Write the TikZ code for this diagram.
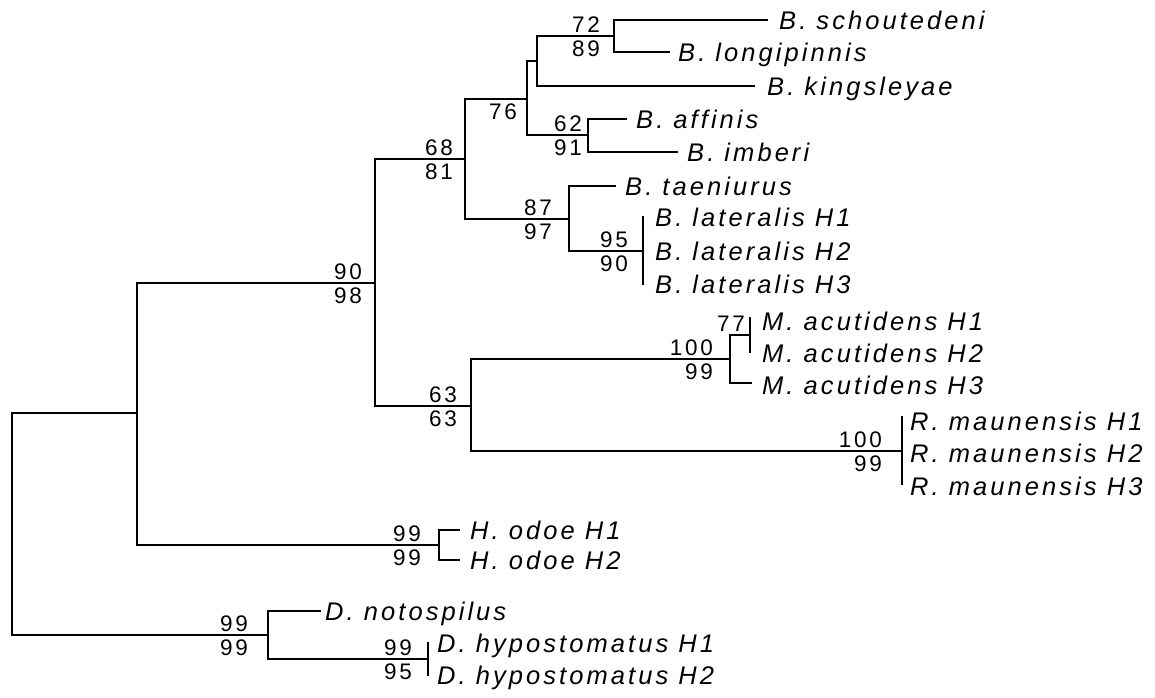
\documentclass[tikz,border=0pt]{standalone}
\usepackage{fontspec}
\newfontfamily\treefont[LetterSpace=12]{Liberation Sans}

\begin{document}
\begin{tikzpicture}[x=1pt,y=-1pt,
    branch/.style={line width=1.8pt,line cap=rect},
    taxon/.style={anchor=base west,inner sep=0pt,yshift=-9pt,
      font=\treefont\itshape\fontsize{25.5}{29}\selectfont},
    boottop/.style={anchor=base east,inner sep=0pt,yshift=4pt,
      font=\treefont\fontsize{22.5}{26}\selectfont},
    bootbot/.style={anchor=base east,inner sep=0pt,yshift=-20pt,
      font=\treefont\fontsize{22.5}{26}\selectfont}]
    \useasboundingbox[fill=white] (0,0) rectangle (1155,697);

    %% Internal nodes
    \coordinate (root) at (12,524);
    \coordinate (nA)   at (137,413);
    \coordinate (nB)   at (375,283);
    \coordinate (nC)   at (465,159);
    \coordinate (nDd)  at (527,99);
    \coordinate (nE)   at (537,61);
    \coordinate (nF)   at (614,36);
    \coordinate (nG)   at (588,135);
    \coordinate (nH)   at (569,219);
    \coordinate (nI)   at (643,251);
    \coordinate (nJ)   at (471,406);
    \coordinate (nK)   at (730,359);
    \coordinate (nL)   at (750,335);
    \coordinate (nR)   at (902,451);
    \coordinate (nO)   at (439,545);
    \coordinate (nD)   at (268,635);
    \coordinate (nHy)  at (428,659);

    %% Branch tips
    \coordinate (tSch) at (767,20);
    \coordinate (tLon) at (669,52);
    \coordinate (tKin) at (754,86);
    \coordinate (tAff) at (626,119);
    \coordinate (tImb) at (677,152);
    \coordinate (tTae) at (615,186);
    \coordinate (tAc3) at (751,383);
    \coordinate (tOd1) at (459,530);
    \coordinate (tOd2) at (459,560);
    \coordinate (tNot) at (320,611);

    %% Tree
    \draw[branch] (root) |- (nA);
    \draw[branch] (root) |- (nD);
    \draw[branch] (nA) |- (nB);
    \draw[branch] (nA) |- (nO);
    \draw[branch] (nB) |- (nC);
    \draw[branch] (nB) |- (nJ);
    \draw[branch] (nC) |- (nDd);
    \draw[branch] (nC) |- (nH);
    \draw[branch] (nDd) |- (nE);
    \draw[branch] (nDd) |- (nG);
    \draw[branch] (nE) |- (nF);
    \draw[branch] (nE) |- (tKin);
    \draw[branch] (nF) |- (tSch);
    \draw[branch] (nF) |- (tLon);
    \draw[branch] (nG) |- (tAff);
    \draw[branch] (nG) |- (tImb);
    \draw[branch] (nH) |- (tTae);
    \draw[branch] (nH) |- (nI);
    \draw[branch] (nJ) |- (nK);
    \draw[branch] (nJ) |- (nR);
    \draw[branch] (nK) |- (nL);
    \draw[branch] (nK) |- (tAc3);
    \draw[branch] (nO) |- (tOd1);
    \draw[branch] (nO) |- (tOd2);
    \draw[branch] (nD) |- (tNot);
    \draw[branch] (nD) |- (nHy);
    % unresolved haplotypes
    \draw[branch] ([yshift=-33pt]nI) -- ([yshift=34pt]nI);
    \draw[branch] ([yshift=-17pt]nL) -- ([yshift=17pt]nL);
    \draw[branch] ([yshift=-33pt]nR) -- ([yshift=34pt]nR);
    \draw[branch] ([yshift=-16pt]nHy) -- ([yshift=16pt]nHy);

    %% Taxa
    \node[taxon] (schoutedeni) at ([xshift=12pt]tSch) {B. schoutedeni};
    \node[taxon] (longipinnis) at ([xshift=9pt]tLon) {B. longipinnis};
    \node[taxon] (kingsleyae)  at ([xshift=13pt]tKin) {B. kingsleyae};
    \node[taxon] (affinis)     at ([xshift=10pt]tAff) {B. affinis};
    \node[taxon] (imberi)      at ([xshift=10pt]tImb) {B. imberi};
    \node[taxon] (taeniurus)   at ([xshift=10pt]tTae) {B. taeniurus};
    \foreach \h/\y in {1/217,2/251,3/284}
        \node[taxon] (lateralis\h) at (655,\y) {B. lateralis H\h};
    \foreach \h/\y in {1/321,2/353,3/385}
        \node[taxon] (acutidens\h) at (762,\y) {M. acutidens H\h};
    \foreach \h/\y in {1/421,2/453,3/486}
        \node[taxon] (maunensis\h) at (910,\y) {R. maunensis H\h};
    \node[taxon] (odoe1) at ([xshift=11pt]tOd1) {H. odoe H1};
    \node[taxon] (odoe2) at ([xshift=11pt]tOd2) {H. odoe H2};
    \node[taxon] (notospilus) at ([xshift=5pt]tNot) {D. notospilus};
    \node[taxon] (hypostomatus1) at (437,643) {D. hypostomatus H1};
    \node[taxon] (hypostomatus2) at (437,675) {D. hypostomatus H2};

    %% Bootstrap values
    \node[boottop] (bB1) at (362,283) {90};
    \node[bootbot] (bB2) at (362,283) {98};
    \node[boottop] (bC1) at (453,159) {68};
    \node[bootbot] (bC2) at (453,159) {81};
    \node[bootbot] (bDd) at (517,99) {76};
    \node[boottop] (bF1) at (600,36) {72};
    \node[bootbot] (bF2) at (600,36) {89};
    \node[boottop] (bG1) at (582,135) {62};
    \node[bootbot] (bG2) at (582,135) {91};
    \node[boottop] (bH1) at (552,219) {87};
    \node[bootbot] (bH2) at (552,219) {97};
    \node[boottop] (bI1) at (628,251) {95};
    \node[bootbot] (bI2) at (628,251) {90};
    \node[boottop] (bJ1) at (457,406) {63};
    \node[bootbot] (bJ2) at (457,406) {63};
    \node[boottop] (bK1) at (713,359) {100};
    \node[bootbot] (bK2) at (713,359) {99};
    \node[boottop] (bL)  at (745,335) {77};
    \node[boottop] (bR1) at (882,451) {100};
    \node[bootbot] (bR2) at (882,451) {99};
    \node[boottop] (bO1) at (421,545) {99};
    \node[bootbot] (bO2) at (421,545) {99};
    \node[boottop] (bD1) at (248,635) {99};
    \node[bootbot] (bD2) at (248,635) {99};
    \node[boottop] (bHy1) at (412,659) {99};
    \node[bootbot] (bHy2) at (412,659) {95};
\end{tikzpicture}
\end{document}
